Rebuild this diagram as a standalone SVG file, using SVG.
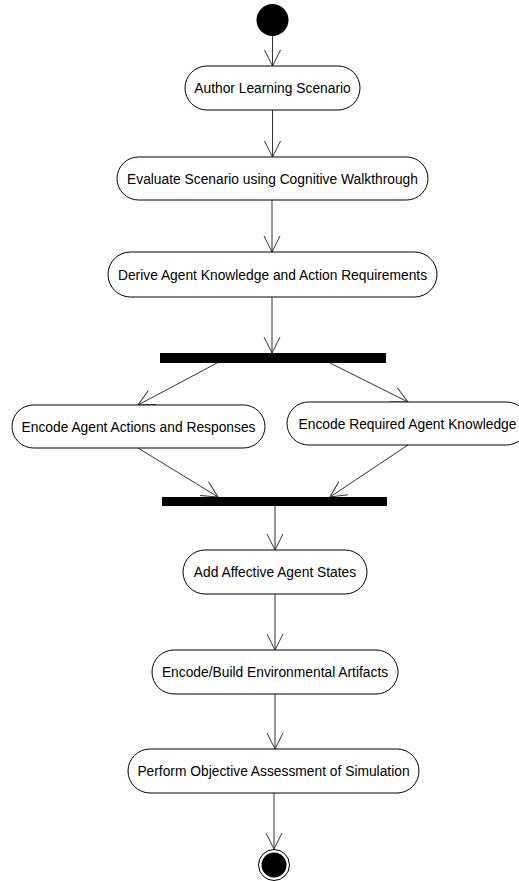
<svg xmlns="http://www.w3.org/2000/svg" width="519" height="881" viewBox="0 0 519 881">
<style>
.node rect.act{fill:#fff;stroke:#000;stroke-width:1}
.node text{font-family:"Liberation Sans",Arial,sans-serif;font-size:13.8px;fill:#000;text-anchor:middle}
.bar{fill:#000}
#connectors line{stroke:#333;stroke-width:1;fill:none;marker-end:url(#arr)}
</style>
<defs>
<marker id="arr" viewBox="-17 -9 18 18" refX="0" refY="0" markerWidth="18" markerHeight="18" markerUnits="userSpaceOnUse" orient="auto">
<path d="M-16,-8 L0,0 L-16,8" fill="none" stroke="#333" stroke-width="1"/>
</marker>
</defs>
<rect width="519" height="881" fill="#fff"/>
<g id="connectors">
<line x1="272.5" y1="36" x2="272.5" y2="66"/>
<line x1="272.5" y1="110" x2="272.5" y2="157"/>
<line x1="272" y1="200" x2="272" y2="252"/>
<line x1="272" y1="297" x2="272" y2="353"/>
<line x1="217" y1="363" x2="138" y2="405"/>
<line x1="330" y1="363" x2="408" y2="402"/>
<line x1="138" y1="448" x2="218" y2="497"/>
<line x1="408" y1="445" x2="330" y2="497"/>
<line x1="275" y1="506" x2="275" y2="550"/>
<line x1="275" y1="594" x2="275" y2="650"/>
<line x1="275" y1="694" x2="275" y2="749"/>
<line x1="274" y1="793" x2="274" y2="849"/>
</g>
<g id="start" class="node"><circle cx="272.5" cy="20" r="16" fill="#000"/></g>
<g id="author" class="node"><rect class="act" x="185" y="66" width="175" height="44" rx="22"/><text x="272.5" y="93">Author Learning Scenario</text></g>
<g id="evaluate" class="node"><rect class="act" x="117" y="157" width="311" height="43" rx="21.5"/><text x="272.5" y="183.5">Evaluate Scenario using Cognitive Walkthrough</text></g>
<g id="derive" class="node"><rect class="act" x="108" y="252" width="329" height="45" rx="22.5"/><text x="272.5" y="279.5">Derive Agent Knowledge and Action Requirements</text></g>
<g id="fork" class="node"><rect class="bar" x="160" y="353" width="226" height="10"/></g>
<g id="actions" class="node"><rect class="act" x="12" y="405" width="253" height="43" rx="21.5"/><text x="138.5" y="431.5">Encode Agent Actions and Responses</text></g>
<g id="knowledge" class="node"><rect class="act" x="287" y="402" width="241" height="43" rx="21.5"/><text x="407.5" y="428.5">Encode Required Agent Knowledge</text></g>
<g id="join" class="node"><rect class="bar" x="162" y="497" width="225" height="9"/></g>
<g id="affective" class="node"><rect class="act" x="183" y="550" width="184" height="44" rx="22"/><text x="275" y="577">Add Affective Agent States</text></g>
<g id="build" class="node"><rect class="act" x="152" y="650" width="246" height="44" rx="22"/><text x="275" y="677">Encode/Build Environmental Artifacts</text></g>
<g id="assess" class="node"><rect class="act" x="128" y="749" width="291" height="44" rx="22"/><text x="273.5" y="776">Perform Objective Assessment of Simulation</text></g>
<g id="end" class="node"><circle cx="274" cy="865" r="15.5" fill="#fff" stroke="#000" stroke-width="1"/><circle cx="274" cy="865" r="12.5" fill="#000"/></g>
</svg>
